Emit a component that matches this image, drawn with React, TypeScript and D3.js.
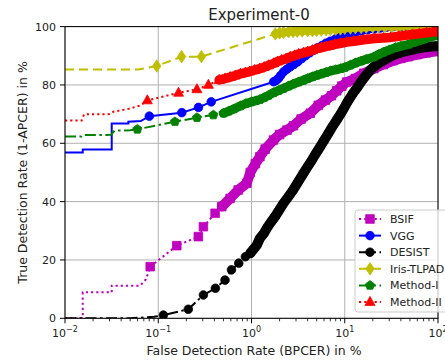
import React from "react";
import * as d3 from "d3";

type P = [number, number];

const xTicks = [0.01, 0.1, 1, 10, 100];
const xTickExps = ["\u22122", "\u22121", "0", "1", "2"];
const yTicks = [0, 20, 40, 60, 80, 100];
const seriesNames = ["BSIF", "VGG", "DESIST", "Iris-TLPAD", "Method-I", "Method-II"];

const bsifSteps: P[] = [[0.01, 0], [0.0155, 0], [0.0155, 8.9], [0.0317, 8.9], [0.0317, 11.2], [0.064, 11.2], [0.074, 13.4]];
const bsifMarked: P[] = [[0.082, 17.7], [0.158, 24.9], [0.269, 28], [0.305, 31.4], [0.407, 36], [0.48, 38.3], [0.59, 41.1], [0.72, 44], [0.89, 46.3], [0.97, 50], [1.1, 53], [1.23, 55.4], [1.4, 58], [1.72, 61.1], [2.0, 63], [2.4, 64.5], [2.82, 66], [3.4, 68.3], [4.27, 70.3], [5.2, 73], [6.2, 74.8], [7.2, 76.3], [8.2, 78], [9.3, 79.6], [10.5, 81], [13, 82.2], [16, 84], [20.5, 85.6], [26, 87], [33, 88.3], [40, 89.1], [48, 89.7], [60, 90.4], [75, 91], [90, 91.4]];

const vggSteps: P[] = [[0.01, 56.8], [0.0155, 56.8], [0.0155, 57.9], [0.0317, 57.9], [0.0317, 66.8], [0.0478, 66.8], [0.0478, 67.4], [0.065, 67.6]];
const vggMarked: P[] = [[0.0802, 69.3], [0.179, 70.5], [0.27, 72.3], [0.37, 74.2], [1.73, 81.1], [1.85, 81.6], [1.95, 82.3], [2.05, 83.2], [2.21, 84.5], [2.4, 85.4], [2.6, 86.2], [2.85, 87], [3.12, 87.9], [3.45, 89], [3.8, 90], [4.2, 91], [4.64, 91.9], [5.1, 92.7], [5.7, 93.5], [6.3, 94.3], [7, 95], [8, 95.8], [9.05, 96.5], [10, 97], [11.5, 97.6], [13, 98], [15, 98.5], [17.5, 98.9], [20.5, 99.2], [24, 99.5], [28, 99.8], [33, 100], [40, 100], [48, 100], [57, 100], [68, 100], [80, 100], [92, 100], [100, 100]];

const desistSteps: P[] = [[0.01, 0], [0.05, 0], [0.09, 0.5]];
const desistMarked: P[] = [[0.1135, 1.1], [0.21, 3.1], [0.305, 8], [0.41, 10.3], [0.52, 13.1], [0.61, 16.6], [0.73, 18.9], [0.86, 21.1], [0.97, 22.3], [1.07, 24], [1.14, 25.1], [1.23, 27.4], [1.35, 29], [1.46, 30.9], [1.62, 33], [1.8, 35], [2.0, 37.3], [2.2, 39.4], [2.5, 41.8], [2.8, 44], [3.2, 47], [3.6, 49.7], [4.0, 52], [4.4, 54], [4.9, 56.5], [5.45, 58.8], [6.0, 61], [6.7, 63.5], [7.4, 65.8], [8.2, 68], [9.0, 70], [9.8, 72], [11, 74.8], [12.3, 77.2], [13.8, 79.4], [15.2, 81.4], [16.8, 83.2], [18.5, 84.8], [20.5, 86.2], [23.5, 87.6], [27, 88.7], [31, 89.8], [37, 90.8], [43, 91.4], [50, 91.9], [57, 92.3], [65, 92.7], [75, 93], [85, 93.2], [95, 93.3]];

const tlpadSteps: P[] = [[0.01, 85.3], [0.061, 85.3]];
const tlpadMarked: P[] = [[0.0964, 86.5], [0.178, 89.7], [0.29, 89.7], [1.8, 97.5], [2.0, 97.8], [2.2, 98], [2.5, 98.2], [2.8, 98.3], [3.1, 98.4], [3.5, 98.5], [4.0, 98.6], [4.5, 98.6], [5.0, 98.7], [5.6, 98.8], [6.3, 98.9], [7, 99], [8, 99.1], [9, 99.2], [10, 99.4], [11.5, 99.5], [13, 99.6], [15, 99.7], [17, 99.8], [20, 99.9], [23, 100], [27, 100], [32, 100], [38, 100], [45, 100], [53, 100], [63, 100], [75, 100], [88, 100], [100, 100]];

const method1Steps: P[] = [[0.01, 62.3], [0.015, 62.3], [0.0155, 62.8], [0.031, 62.9], [0.034, 64.3], [0.05, 64.5]];
const method1Marked: P[] = [[0.0597, 64.8], [0.151, 67.4], [0.26, 68.8], [0.39, 69.7], [0.5, 70.3], [0.57, 71], [0.65, 71.8], [0.76, 72.8], [0.87, 73.6], [1.0, 74.2], [1.12, 74.6], [1.23, 75], [1.37, 75.7], [1.52, 76.4], [1.73, 77.4], [1.95, 78.1], [2.2, 78.8], [2.5, 79.6], [2.8, 80.3], [3.2, 81], [3.6, 81.6], [4.0, 82.2], [4.5, 82.8], [5.0, 83.3], [5.6, 83.8], [6.3, 84.3], [7, 84.8], [8, 85.2], [9.05, 85.6], [10, 86], [11.5, 86.8], [13, 87.5], [15, 88.2], [17, 88.8], [20.5, 89.6], [23, 90.4], [26, 91.2], [30, 92], [35, 92.8], [40, 93.3], [47.6, 93.8], [55, 94.6], [63, 95.2], [72, 95.8], [82, 96.4], [92, 96.8], [100, 97]];

const method2Steps: P[] = [[0.01, 67.8], [0.0151, 67.8], [0.016, 69.9], [0.03, 70], [0.033, 70.8], [0.048, 71.8], [0.065, 73]];
const method2Marked: P[] = [[0.0764, 74.7], [0.165, 77.3], [0.26, 78.5], [0.345, 80], [0.45, 81.7], [0.52, 82.2], [0.59, 82.7], [0.67, 83.2], [0.76, 83.8], [0.86, 84.2], [0.96, 84.6], [1.08, 85.1], [1.23, 85.6], [1.37, 86.1], [1.52, 86.7], [1.73, 87.4], [1.9, 88], [2.1, 88.5], [2.35, 89], [2.6, 89.6], [2.9, 90.1], [3.2, 90.6], [3.6, 91], [4.0, 91.4], [4.5, 91.9], [5.0, 92.4], [5.6, 92.8], [6.3, 93.2], [7, 93.5], [7.8, 93.9], [9.05, 94.3], [10.5, 94.7], [12.5, 95], [16, 95.5], [21, 95.9], [26, 96.1], [31, 96.3], [38, 96.7], [45, 97], [53, 97.3], [63, 97.6], [75, 97.9], [88, 98.1], [100, 98.3]];

type Shape = "square" | "circle" | "thin_diamond" | "pentagon" | "triangle";

const styles = [
  { color: "#bf00bf", dash: "2.2,3", shape: "square" as Shape, band: 10, bandFrom: 0.45 },
  { color: "#0000ff", dash: "", shape: "circle" as Shape, band: 7.5, bandFrom: 1.7 },
  { color: "#000000", dash: "11,3.5,2.5,3.5", shape: "circle" as Shape, band: 10, bandFrom: 0.95 },
  { color: "#bfbf00", dash: "9,5", shape: "thin_diamond" as Shape, band: 8, bandFrom: 1.75 },
  { color: "#008000", dash: "11,3.5,2.5,3.5", shape: "pentagon" as Shape, band: 9, bandFrom: 0.45 },
  { color: "#ff0000", dash: "2.2,3", shape: "triangle" as Shape, band: 9.5, bandFrom: 0.42 },
];

const seriesSteps = [bsifSteps, vggSteps, desistSteps, tlpadSteps, method1Steps, method2Steps];
const seriesMarked = [bsifMarked, vggMarked, desistMarked, tlpadMarked, method1Marked, method2Marked];

function markerPath(shape: Shape): string {
  switch (shape) {
    case "square":
      return "M-4.3,-4.3H4.3V4.3H-4.3Z";
    case "circle":
      return "M4.3,0A4.3,4.3 0 1,1 -4.3,0A4.3,4.3 0 1,1 4.3,0Z";
    case "thin_diamond":
      return "M0,-6.2L4.2,0L0,6.2L-4.2,0Z";
    case "pentagon": {
      const r = 4.8;
      const pts = d3.range(5).map((k) => {
        const a = (-90 + 72 * k) * (Math.PI / 180);
        return [r * Math.cos(a), r * Math.sin(a)];
      });
      return "M" + pts.map((p) => p[0].toFixed(2) + "," + p[1].toFixed(2)).join("L") + "Z";
    }
    case "triangle":
      return "M0,-5.6L5,3.4L-5,3.4Z";
  }
}

export default function App() {
  const L = 65, R = 438, T = 26.6, B = 318.3;
  const x = d3.scaleLog().domain([0.01, 100]).range([L, R]);
  const y = d3.scaleLinear().domain([0, 100]).range([B, T]);
  const line = d3.line<P>().x((d) => x(d[0])).y((d) => y(d[1]));
  const font = "'DejaVu Sans', sans-serif";

  const minor: number[] = [];
  [0.01, 0.1, 1, 10].forEach((dec) => {
    for (let m = 2; m <= 9; m++) minor.push(dec * m);
  });

  const legendY = [219, 235.6, 252.2, 268.8, 285.4, 302];

  return (
    <svg width={445} height={362} style={{ position: "absolute", left: 0, top: 0, background: "#fff" }} fontFamily={font}>
      <defs>
        <clipPath id="plotclip">
          <rect x={L} y={T} width={R - L} height={B - T} />
        </clipPath>
      </defs>
      <rect x={0} y={0} width={445} height={362} fill="#fff" />
      {xTicks.map((t, i) => (
        <line key={"gx" + i} x1={x(t)} x2={x(t)} y1={T} y2={B} stroke="#b0b0b0" strokeWidth={1} />
      ))}
      {yTicks.map((t, i) => (
        <line key={"gy" + i} x1={L} x2={R} y1={y(t)} y2={y(t)} stroke="#b0b0b0" strokeWidth={1} />
      ))}
      <g clipPath="url(#plotclip)">
        {styles.map((s, i) => {
          const marked = seriesMarked[i];
          const all = seriesSteps[i].concat(marked);
          const bandPts = marked.filter((d) => d[0] >= s.bandFrom);
          const mp = markerPath(s.shape);
          return (
            <g key={"s" + i}>
              <path d={line(all) || ""} fill="none" stroke={s.color} strokeWidth={2} strokeDasharray={s.dash || undefined} />
              {bandPts.length > 1 && (
                <path d={line(bandPts) || ""} fill="none" stroke={s.color} strokeWidth={s.band} strokeLinejoin="round" strokeLinecap="round" />
              )}
              {marked.map((d, j) => (
                <path key={j} d={mp} transform={`translate(${x(d[0])},${y(d[1])})`} fill={s.color} stroke={s.color} strokeWidth={0.8} />
              ))}
            </g>
          );
        })}
      </g>
      <rect x={L} y={T} width={R - L} height={B - T} fill="none" stroke="#000" strokeWidth={1} />
      {xTicks.map((t, i) => (
        <g key={"xt" + i}>
          <line x1={x(t)} x2={x(t)} y1={B} y2={B + 5} stroke="#000" strokeWidth={1} />
          <text x={x(t)} y={336.5} fontSize={11} textAnchor="middle" fill="#222">
            10
            <tspan fontSize={8} dy={-5}>{xTickExps[i]}</tspan>
          </text>
        </g>
      ))}
      {minor.map((t, i) => (
        <line key={"mx" + i} x1={x(t)} x2={x(t)} y1={B} y2={B + 3} stroke="#000" strokeWidth={0.8} />
      ))}
      {yTicks.map((t, i) => (
        <g key={"yt" + i}>
          <line x1={L - 5} x2={L} y1={y(t)} y2={y(t)} stroke="#000" strokeWidth={1} />
          <text x={56} y={y(t)} dy="0.36em" fontSize={11} textAnchor="end" fill="#222">
            {t}
          </text>
        </g>
      ))}
      <text x={259} y={19.5} fontSize={15} textAnchor="middle" fill="#222">
        Experiment-0
      </text>
      <text x={254} y={355} fontSize={12.5} textAnchor="middle" fill="#222">
        False Detection Rate (BPCER) in %
      </text>
      <text transform={`translate(27,${(T + B) / 2}) rotate(-90)`} fontSize={12.5} textAnchor="middle" fill="#222">
        True Detection Rate (1-APCER) in %
      </text>
      <rect x={355} y={210} width={100} height={102} rx={3} fill="#fff" fillOpacity={0.8} stroke="#cccccc" strokeWidth={1} />
      {styles.map((s, i) => (
        <g key={"lg" + i}>
          <line x1={359} x2={381} y1={legendY[i]} y2={legendY[i]} stroke={s.color} strokeWidth={2} strokeDasharray={s.dash || undefined} />
          <path d={markerPath(s.shape)} transform={`translate(370,${legendY[i]})`} fill={s.color} stroke={s.color} strokeWidth={0.8} />
          <text x={390} y={legendY[i]} dy="0.36em" fontSize={11} fill="#222">
            {seriesNames[i]}
          </text>
        </g>
      ))}
    </svg>
  );
}
